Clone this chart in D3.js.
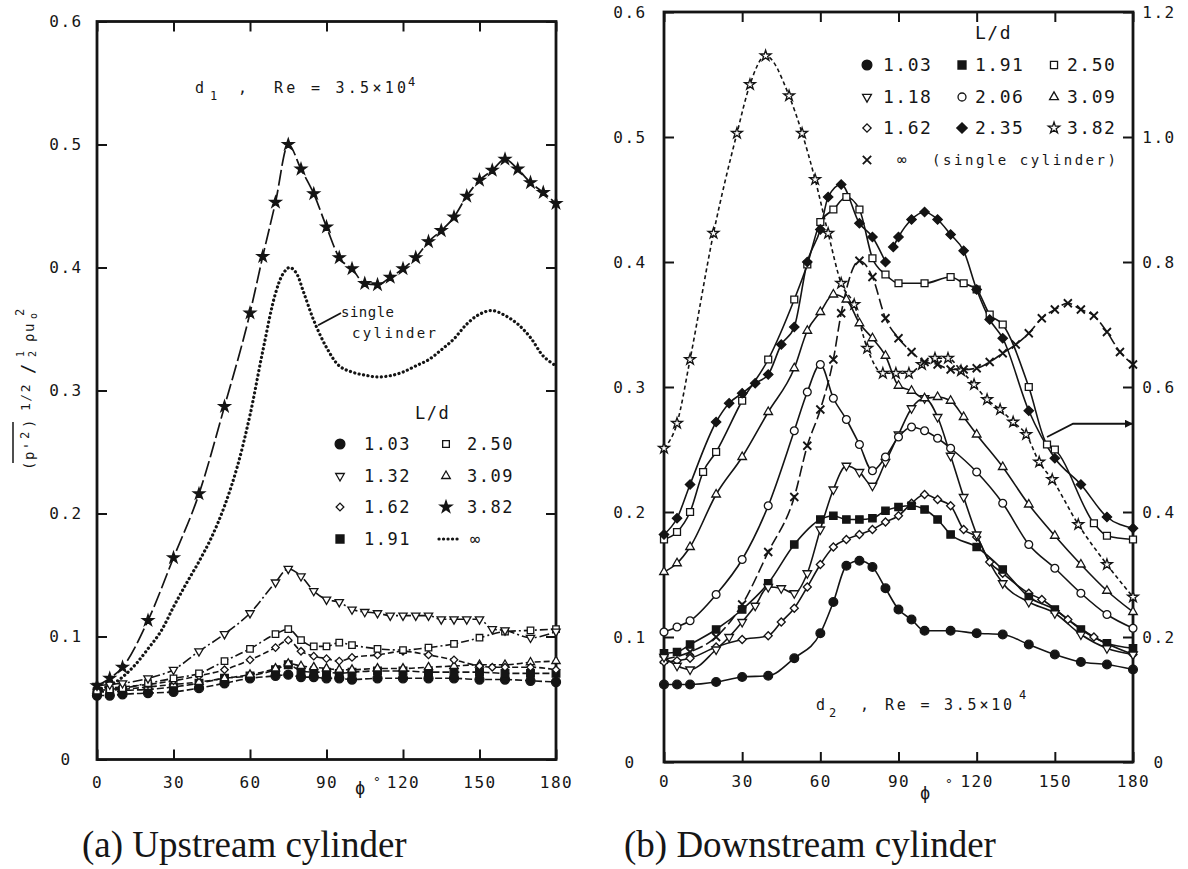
<!DOCTYPE html>
<html>
<head>
<meta charset="utf-8">
<script src="https://cdn.jsdelivr.net/npm/d3@7"></script>
<style>
  body { margin: 0; background: #fff; }
  svg text { fill: #161616; }
</style>
</head>
<body>
<svg id="chart" width="1188" height="869"></svg>
<script>
// Fluctuating pressure (p'^2)^1/2 / (1/2 rho u0^2) against phi (deg)
const xTicks = [0, 30, 60, 90, 120, 150, 180];
const yTicks = [0, 0.1, 0.2, 0.3, 0.4, 0.5, 0.6];
const rightTicks = [0, 0.2, 0.4, 0.6, 0.8, 1.0, 1.2];

// (a) upstream cylinder
const up103 = [[0,0.052],[5,0.052],[10,0.053],[20,0.054],[30,0.055],[40,0.058],[50,0.062],[60,0.066],[70,0.068],[75,0.069],[80,0.067],[85,0.067],[90,0.066],[95,0.066],[100,0.065],[110,0.066],[120,0.066],[130,0.066],[140,0.066],[150,0.065],[160,0.065],[170,0.064],[180,0.063]];
const up191 = [[0,0.055],[5,0.055],[10,0.056],[20,0.057],[30,0.059],[40,0.062],[50,0.066],[60,0.068],[70,0.073],[75,0.077],[80,0.072],[85,0.071],[90,0.071],[95,0.070],[100,0.071],[110,0.072],[120,0.072],[130,0.071],[140,0.071],[150,0.071],[160,0.070],[170,0.070],[180,0.070]];
const up132 = [[0,0.060],[5,0.061],[10,0.062],[20,0.066],[30,0.073],[40,0.088],[50,0.102],[60,0.119],[70,0.144],[75,0.155],[80,0.149],[85,0.137],[90,0.130],[95,0.128],[100,0.122],[105,0.120],[110,0.119],[115,0.117],[120,0.117],[125,0.117],[130,0.117],[135,0.114],[140,0.114],[145,0.114],[150,0.114],[155,0.106],[160,0.105],[170,0.099],[180,0.104]];
const up162 = [[0,0.057],[5,0.058],[10,0.059],[20,0.061],[30,0.064],[40,0.068],[50,0.073],[60,0.081],[70,0.091],[75,0.097],[80,0.088],[85,0.084],[90,0.082],[95,0.080],[100,0.083],[110,0.085],[120,0.088],[130,0.085],[140,0.081],[150,0.076],[155,0.075],[160,0.075],[170,0.075],[180,0.073]];
const up250 = [[0,0.056],[5,0.057],[10,0.058],[20,0.062],[30,0.066],[40,0.070],[50,0.080],[60,0.090],[70,0.102],[75,0.106],[80,0.097],[85,0.092],[90,0.092],[95,0.095],[100,0.093],[110,0.090],[120,0.089],[130,0.091],[140,0.094],[150,0.099],[160,0.104],[170,0.105],[180,0.106]];
const up309 = [[0,0.056],[10,0.057],[20,0.059],[30,0.061],[40,0.063],[50,0.066],[60,0.069],[70,0.074],[75,0.078],[80,0.076],[85,0.075],[90,0.074],[95,0.073],[100,0.073],[110,0.074],[120,0.074],[130,0.075],[140,0.076],[150,0.077],[160,0.077],[170,0.079],[180,0.080]];
const up382 = [[0,0.060],[5,0.066],[10,0.075],[20,0.113],[30,0.164],[40,0.216],[50,0.287],[60,0.363],[65,0.409],[70,0.453],[75,0.500],[80,0.480],[85,0.460],[90,0.433],[95,0.408],[100,0.399],[105,0.387],[110,0.386],[115,0.392],[120,0.399],[125,0.408],[130,0.421],[135,0.430],[140,0.441],[145,0.458],[150,0.471],[155,0.479],[160,0.488],[165,0.480],[170,0.469],[175,0.461],[180,0.452]];
const upSingle = [[0,0.057],[5,0.060],[10,0.067],[15,0.077],[20,0.090],[25,0.104],[30,0.124],[35,0.143],[40,0.161],[45,0.181],[50,0.206],[55,0.238],[60,0.280],[65,0.332],[70,0.379],[73,0.395],[75.5,0.400],[78,0.396],[81,0.380],[85,0.357],[90,0.335],[95,0.320],[100,0.315],[105,0.3125],[110,0.311],[115,0.312],[120,0.315],[125,0.320],[130,0.325],[135,0.333],[140,0.342],[145,0.354],[150,0.362],[155,0.365],[160,0.361],[165,0.354],[170,0.343],[175,0.328],[180,0.320]];

// (b) downstream cylinder
const dn103 = [[0,0.062],[5,0.062],[10,0.062],[20,0.064],[30,0.068],[40,0.069],[50,0.083],[60,0.103],[65,0.128],[70,0.157],[75,0.161],[80,0.156],[85,0.139],[90,0.122],[95,0.114],[100,0.105],[110,0.105],[120,0.103],[130,0.102],[140,0.094],[150,0.086],[160,0.080],[170,0.078],[180,0.074]];
const dn118 = [[0,0.084],[5,0.077],[10,0.074],[20,0.090],[25,0.100],[30,0.112],[35,0.125],[40,0.140],[45,0.139],[50,0.135],[55,0.151],[60,0.186],[65,0.218],[70,0.237],[75,0.232],[80,0.221],[85,0.240],[90,0.262],[95,0.283],[100,0.291],[105,0.276],[110,0.245],[115,0.212],[120,0.182],[130,0.143],[140,0.128],[150,0.119],[160,0.102],[170,0.091],[180,0.086]];
const dn162 = [[0,0.080],[5,0.081],[10,0.083],[20,0.092],[30,0.098],[40,0.101],[45,0.112],[50,0.123],[55,0.140],[60,0.158],[65,0.172],[70,0.178],[75,0.182],[80,0.186],[85,0.192],[90,0.197],[95,0.207],[100,0.214],[105,0.210],[110,0.205],[115,0.186],[120,0.180],[125,0.160],[130,0.151],[140,0.135],[145,0.130],[155,0.114],[165,0.100],[180,0.086]];
const dn191 = [[0,0.087],[5,0.088],[10,0.094],[20,0.106],[30,0.122],[40,0.143],[50,0.174],[60,0.194],[65,0.197],[70,0.194],[75,0.194],[80,0.195],[85,0.201],[90,0.204],[95,0.205],[100,0.202],[105,0.194],[110,0.182],[120,0.172],[130,0.154],[140,0.132],[150,0.122],[160,0.106],[170,0.095],[180,0.091]];
const dn206 = [[0,0.104],[5,0.108],[10,0.113],[20,0.134],[30,0.162],[40,0.205],[50,0.265],[55,0.296],[60,0.318],[65,0.291],[70,0.274],[75,0.254],[80,0.233],[85,0.244],[90,0.260],[95,0.268],[100,0.265],[105,0.259],[110,0.251],[120,0.232],[130,0.207],[140,0.174],[150,0.155],[160,0.135],[170,0.118],[180,0.107]];
const dn235a = [[0,0.182],[5,0.195],[10,0.222],[20,0.272],[25,0.287],[30,0.295],[35,0.303],[40,0.310],[45,0.334],[50,0.348],[55,0.400],[60,0.426],[63,0.452],[68,0.462],[75,0.431],[80,0.420],[85,0.400]];
const dn235b = [[88,0.412],[90,0.420],[95,0.434],[100,0.440],[105,0.434],[110,0.422],[115,0.409],[120,0.378],[125,0.354],[130,0.339],[140,0.281],[150,0.243],[160,0.222],[170,0.196],[180,0.187]];
const dn250 = [[0,0.178],[5,0.184],[10,0.200],[15,0.232],[20,0.248],[30,0.289],[40,0.322],[50,0.370],[55,0.398],[60,0.432],[65,0.442],[70,0.452],[75,0.442],[80,0.403],[85,0.390],[90,0.383],[100,0.383],[110,0.388],[115,0.383],[120,0.378],[125,0.358],[130,0.350],[140,0.300],[147,0.254],[150,0.250],[165,0.191],[170,0.181],[180,0.178]];
const dn309 = [[0,0.152],[5,0.159],[10,0.172],[20,0.214],[30,0.244],[40,0.280],[50,0.315],[55,0.345],[60,0.360],[65,0.374],[70,0.370],[75,0.351],[80,0.339],[85,0.325],[90,0.301],[95,0.297],[100,0.291],[105,0.292],[110,0.289],[115,0.276],[120,0.262],[130,0.236],[140,0.206],[150,0.181],[160,0.158],[170,0.137],[180,0.120]];
const dn382 = [[0,0.251],[5,0.271],[10,0.322],[19,0.423],[28,0.503],[33,0.542],[39,0.565],[48,0.533],[53,0.503],[58,0.466],[63,0.423],[68,0.383],[73,0.366],[78,0.331],[84,0.311],[89,0.311],[94,0.311],[99,0.318],[104,0.323],[109,0.323],[114,0.313],[119,0.302],[124,0.290],[129,0.282],[134,0.272],[139,0.262],[144,0.240],[149,0.226],[159,0.190],[170,0.158],[180,0.132]];
const dnSingle = [[0,0.082],[10,0.088],[20,0.100],[30,0.126],[40,0.168],[50,0.212],[55,0.253],[60,0.282],[65,0.322],[68,0.359],[75,0.401],[80,0.388],[85,0.355],[90,0.339],[95,0.328],[100,0.320],[105,0.318],[110,0.314],[115,0.314],[120,0.315],[125,0.320],[130,0.327],[135,0.334],[140,0.343],[145,0.355],[150,0.362],[155,0.367],[160,0.362],[165,0.357],[170,0.344],[175,0.328],[180,0.318]];

// annotation leaders, in data units
const leaderA = [[86.7,0.353],[95.7,0.363]];
const arrowB = [[147,0.260],[157,0.2706],[180,0.2706]];

const svg = d3.select("#chart");
const ink = "#141414";
const mono = "'DejaVu Sans Mono', monospace";

const panelA = { left: 97, right: 556, top: 21.5, bottom: 759.5, labelX: 66, xPad: 17 };
const panelB = { left: 664, right: 1133, top: 12, bottom: 762, labelX: 630, xPad: 14, rightX: 1159 };

function scalesFor(p) {
    return {
        x: d3.scaleLinear().domain([0, 180]).range([p.left, p.right]),
        y: d3.scaleLinear().domain([0, 0.6]).range([p.bottom, p.top])
    };
}

const symTypes = { circle: d3.symbolCircle, square: d3.symbolSquare, triUp: d3.symbolTriangle,
    triDown: d3.symbolTriangle, diamond: d3.symbolSquare, star: d3.symbolStar };
const symRotate = { triDown: 180, diamond: 45 };

function symbolPath(kind, size) {
    if (kind === "x") {
        const r = Math.sqrt(size) / 2;
        return `M${-r},${-r}L${r},${r}M${-r},${r}L${r},${-r}`;
    }
    return d3.symbol(symTypes[kind], size)();
}

function drawSymbol(g, kind, size, filled, cx, cy) {
    g.append("path")
        .attr("d", symbolPath(kind, size))
        .attr("transform", `translate(${cx},${cy}) rotate(${symRotate[kind] || 0})`)
        .attr("fill", kind === "x" ? "none" : (filled ? ink : "#fff"))
        .attr("stroke", ink)
        .attr("stroke-width", kind === "x" ? 1.8 : 1.3);
}

function drawAxes(p, s) {
    const style = sel => {
        sel.select(".domain").remove();
        sel.attr("font-family", mono).attr("font-size", 16);
        sel.selectAll("line").attr("stroke", ink).attr("stroke-width", 2);
        sel.selectAll("text").attr("fill", ink).attr("letter-spacing", 1.5);
    };
    svg.append("g").attr("transform", `translate(0,${p.bottom})`)
        .call(d3.axisBottom(s.x).tickValues(xTicks).tickSize(-10).tickPadding(p.xPad))
        .call(style);
    svg.append("g").attr("transform", `translate(0,${p.top})`)
        .call(d3.axisTop(s.x).tickValues(xTicks).tickSize(-10).tickFormat(""))
        .call(style);
    svg.append("g").attr("transform", `translate(${p.left},0)`)
        .call(d3.axisLeft(s.y).tickValues(yTicks).tickSize(-10)
            .tickFormat(d => d === 0 ? "0" : d.toFixed(1)))
        .call(style)
        .selectAll("text").attr("text-anchor", "middle").attr("x", p.labelX - p.left);
    const right = svg.append("g").attr("transform", `translate(${p.right},0)`);
    if (p.rightX) {
        const yR = d3.scaleLinear().domain([0, 1.2]).range([p.bottom, p.top]);
        right.call(d3.axisRight(yR).tickValues(rightTicks).tickSize(-10)
                .tickFormat(d => d === 0 ? "0" : d.toFixed(1)))
            .call(style)
            .selectAll("text").attr("text-anchor", "middle").attr("x", p.rightX - p.right);
    } else {
        right.call(d3.axisRight(s.y).tickValues(yTicks).tickSize(-10).tickFormat("")).call(style);
    }
    svg.append("rect")
        .attr("x", p.left).attr("y", p.top)
        .attr("width", p.right - p.left).attr("height", p.bottom - p.top)
        .attr("fill", "none").attr("stroke", ink).attr("stroke-width", 2.8);
}

function drawSeries(s, list) {
    const lines = svg.append("g");
    const marks = svg.append("g");
    list.forEach(c => {
        const line = d3.line()
            .x(d => s.x(d[0])).y(d => s.y(d[1]))
            .curve(c.smooth ? d3.curveCatmullRom.alpha(0.5) : d3.curveMonotoneX);
        lines.append("path").datum(c.data)
            .attr("d", line)
            .attr("fill", "none")
            .attr("stroke", ink)
            .attr("stroke-width", c.width || 1.6)
            .attr("stroke-dasharray", c.dash || null)
            .attr("stroke-linecap", c.round ? "round" : "butt");
        if (c.sym) c.data.forEach(d => drawSymbol(marks, c.sym, c.size, c.filled, s.x(d[0]), s.y(d[1])));
    });
}

function label(x, y, str, size, extra) {
    const t = svg.append("text").attr("x", x).attr("y", y)
        .attr("font-family", mono).attr("font-size", size).text(str);
    if (extra) Object.entries(extra).forEach(([k, v]) => t.attr(k, v));
    return t;
}

// ---------- panel (a) ----------
const sA = scalesFor(panelA);
drawAxes(panelA, sA);
drawSeries(sA, [
    { data: upSingle, dash: "0.1,4.4", width: 3.2, round: true, smooth: true },
    { data: up103, sym: "circle", size: 64, filled: true, dash: "7,3" },
    { data: up191, sym: "square", size: 58, filled: true, dash: "7,3" },
    { data: up309, sym: "triUp", size: 30, dash: "6,3" },
    { data: up162, sym: "diamond", size: 28, dash: "6,3" },
    { data: up250, sym: "square", size: 42, dash: "8,3,2,3" },
    { data: up132, sym: "triDown", size: 30, dash: "10,3,2,3" },
    { data: up382, sym: "star", size: 40, filled: true, dash: "16,4", width: 1.7 }
]);

svg.append("path").datum(leaderA)
    .attr("d", d3.line().x(d => sA.x(d[0])).y(d => sA.y(d[1])))
    .attr("stroke", ink).attr("stroke-width", 1.8).attr("fill", "none");
label(341, 317, "single", 14, { textLength: 53, lengthAdjust: "spacing" });
label(352, 338, "cylinder", 14, { textLength: 84, lengthAdjust: "spacing" });

label(195, 93, "d", 15);
label(210, 100, "1", 12);
label(238, 93, ",", 15);
label(274, 93, "Re = 3.5×10", 15, { textLength: 132, lengthAdjust: "spacing" });
label(408, 86, "4", 12);

// legend (a)
const legA = svg.append("g");
label(415, 419, "L/d", 17, { "letter-spacing": 1.5 });
const legRowsA = [444, 476, 507, 539];
const legItemsA = [
    ["circle", 75, true, "1.03", 0, 0], ["square", 45, false, "2.50", 1, 0],
    ["triDown", 32, false, "1.32", 0, 1], ["triUp", 32, false, "3.09", 1, 1],
    ["diamond", 30, false, "1.62", 0, 2], ["star", 44, true, "3.82", 1, 2],
    ["square", 64, true, "1.91", 0, 3]
];
const colSymA = [340, 446], colTxtA = [364, 467];
legItemsA.forEach(([k, sz, f, txt, c, r]) => {
    drawSymbol(legA, k, sz, f, colSymA[c], legRowsA[r]);
    label(colTxtA[c], legRowsA[r] + 6, txt, 17, { "letter-spacing": 1.5 });
});
legA.append("line").attr("x1", 439).attr("x2", 460).attr("y1", 539).attr("y2", 539)
    .attr("stroke", ink).attr("stroke-width", 3.2).attr("stroke-dasharray", "0.1,4.4").attr("stroke-linecap", "round");
label(470, 545, "∞", 17);

// y axis title
const yt = svg.append("g").attr("transform", "translate(34,470) rotate(-90)");
const ytText = (x, y, s, size) => yt.append("text").attr("x", x).attr("y", y)
    .attr("font-family", mono).attr("font-size", size).attr("letter-spacing", 1.5).text(s);
ytText(0, 0, "(p'", 14);
ytText(31, -5, "2", 12);
ytText(42, 0, ")", 14);
yt.append("line").attr("x1", 7).attr("x2", 48).attr("y1", -21).attr("y2", -21)
    .attr("stroke", ink).attr("stroke-width", 1.5);
ytText(59, -4, "1/2", 13);
ytText(96, 0, "/", 17);
ytText(113, -10, "1", 10);
ytText(113, 2, "2", 10);
ytText(128, 0, "ρu", 14);
ytText(151, 3, "o", 10);
ytText(154, -10, "2", 12);

// phi labels
label(355, 794, "ϕ", 17);
label(373, 786, "°", 13);

// ---------- panel (b) ----------
const sB = scalesFor(panelB);
drawAxes(panelB, sB);
drawSeries(sB, [
    { data: dn382, sym: "star", size: 36, dash: "4,3" },
    { data: dnSingle, sym: "x", size: 64, dash: "11,4" },
    { data: dn103, sym: "circle", size: 60, filled: true },
    { data: dn162, sym: "diamond", size: 32 },
    { data: dn191, sym: "square", size: 54, filled: true },
    { data: dn118, sym: "triDown", size: 32 },
    { data: dn206, sym: "circle", size: 48 },
    { data: dn309, sym: "triUp", size: 32 },
    { data: dn250, sym: "square", size: 48 },
    { data: dn235a, sym: "diamond", size: 44, filled: true },
    { data: dn235b, sym: "diamond", size: 44, filled: true }
]);

svg.append("defs").append("marker")
    .attr("id", "arrowhead").attr("viewBox", "0 0 10 10").attr("refX", 10).attr("refY", 5)
    .attr("markerWidth", 10).attr("markerHeight", 8).attr("orient", "auto")
    .attr("markerUnits", "userSpaceOnUse")
    .append("path").attr("d", "M0,0L10,5L0,10Z").attr("fill", ink);
svg.append("path").datum(arrowB)
    .attr("d", d3.line().x(d => sB.x(d[0])).y(d => sB.y(d[1])))
    .attr("stroke", ink).attr("stroke-width", 1.8).attr("fill", "none")
    .attr("marker-end", "url(#arrowhead)");

label(816, 710, "d", 15);
label(829, 717, "2", 12);
label(860, 710, ",", 15);
label(885, 710, "Re = 3.5×10", 15, { textLength: 127, lengthAdjust: "spacing" });
label(1019, 699, "4", 12);

// legend (b)
const legB = svg.append("g");
label(975, 39, "L/d", 18, { "letter-spacing": 1.5 });
const legRowsB = [65, 97, 128, 160];
const colSymB = [867, 962, 1054], colTxtB = [883, 975, 1067];
const legItemsB = [
    ["circle", 75, true, "1.03"], ["square", 64, true, "1.91"], ["square", 50, false, "2.50"],
    ["triDown", 34, false, "1.18"], ["circle", 50, false, "2.06"], ["triUp", 34, false, "3.09"],
    ["diamond", 34, false, "1.62"], ["diamond", 54, true, "2.35"], ["star", 40, false, "3.82"]
];
legItemsB.forEach(([k, sz, f, txt], i) => {
    const c = i % 3, r = Math.floor(i / 3);
    drawSymbol(legB, k, sz, f, colSymB[c], legRowsB[r]);
    label(colTxtB[c], legRowsB[r] + 6, txt, 18, { "letter-spacing": 1.5 });
});
drawSymbol(legB, "x", 70, false, 867, 160);
label(897, 165, "∞", 16);
label(932, 165, "(single cylinder)", 14, { textLength: 184, lengthAdjust: "spacing" });

label(920, 799, "ϕ", 17);
label(945, 788, "°", 13);

// captions
svg.append("text").attr("x", 82).attr("y", 857)
    .attr("font-family", "'Liberation Serif', 'Times New Roman', serif").attr("font-size", 37)
    .text("(a) Upstream cylinder");
svg.append("text").attr("x", 624).attr("y", 857)
    .attr("font-family", "'Liberation Serif', 'Times New Roman', serif").attr("font-size", 37)
    .text("(b) Downstream cylinder");
</script>
</body>
</html>
